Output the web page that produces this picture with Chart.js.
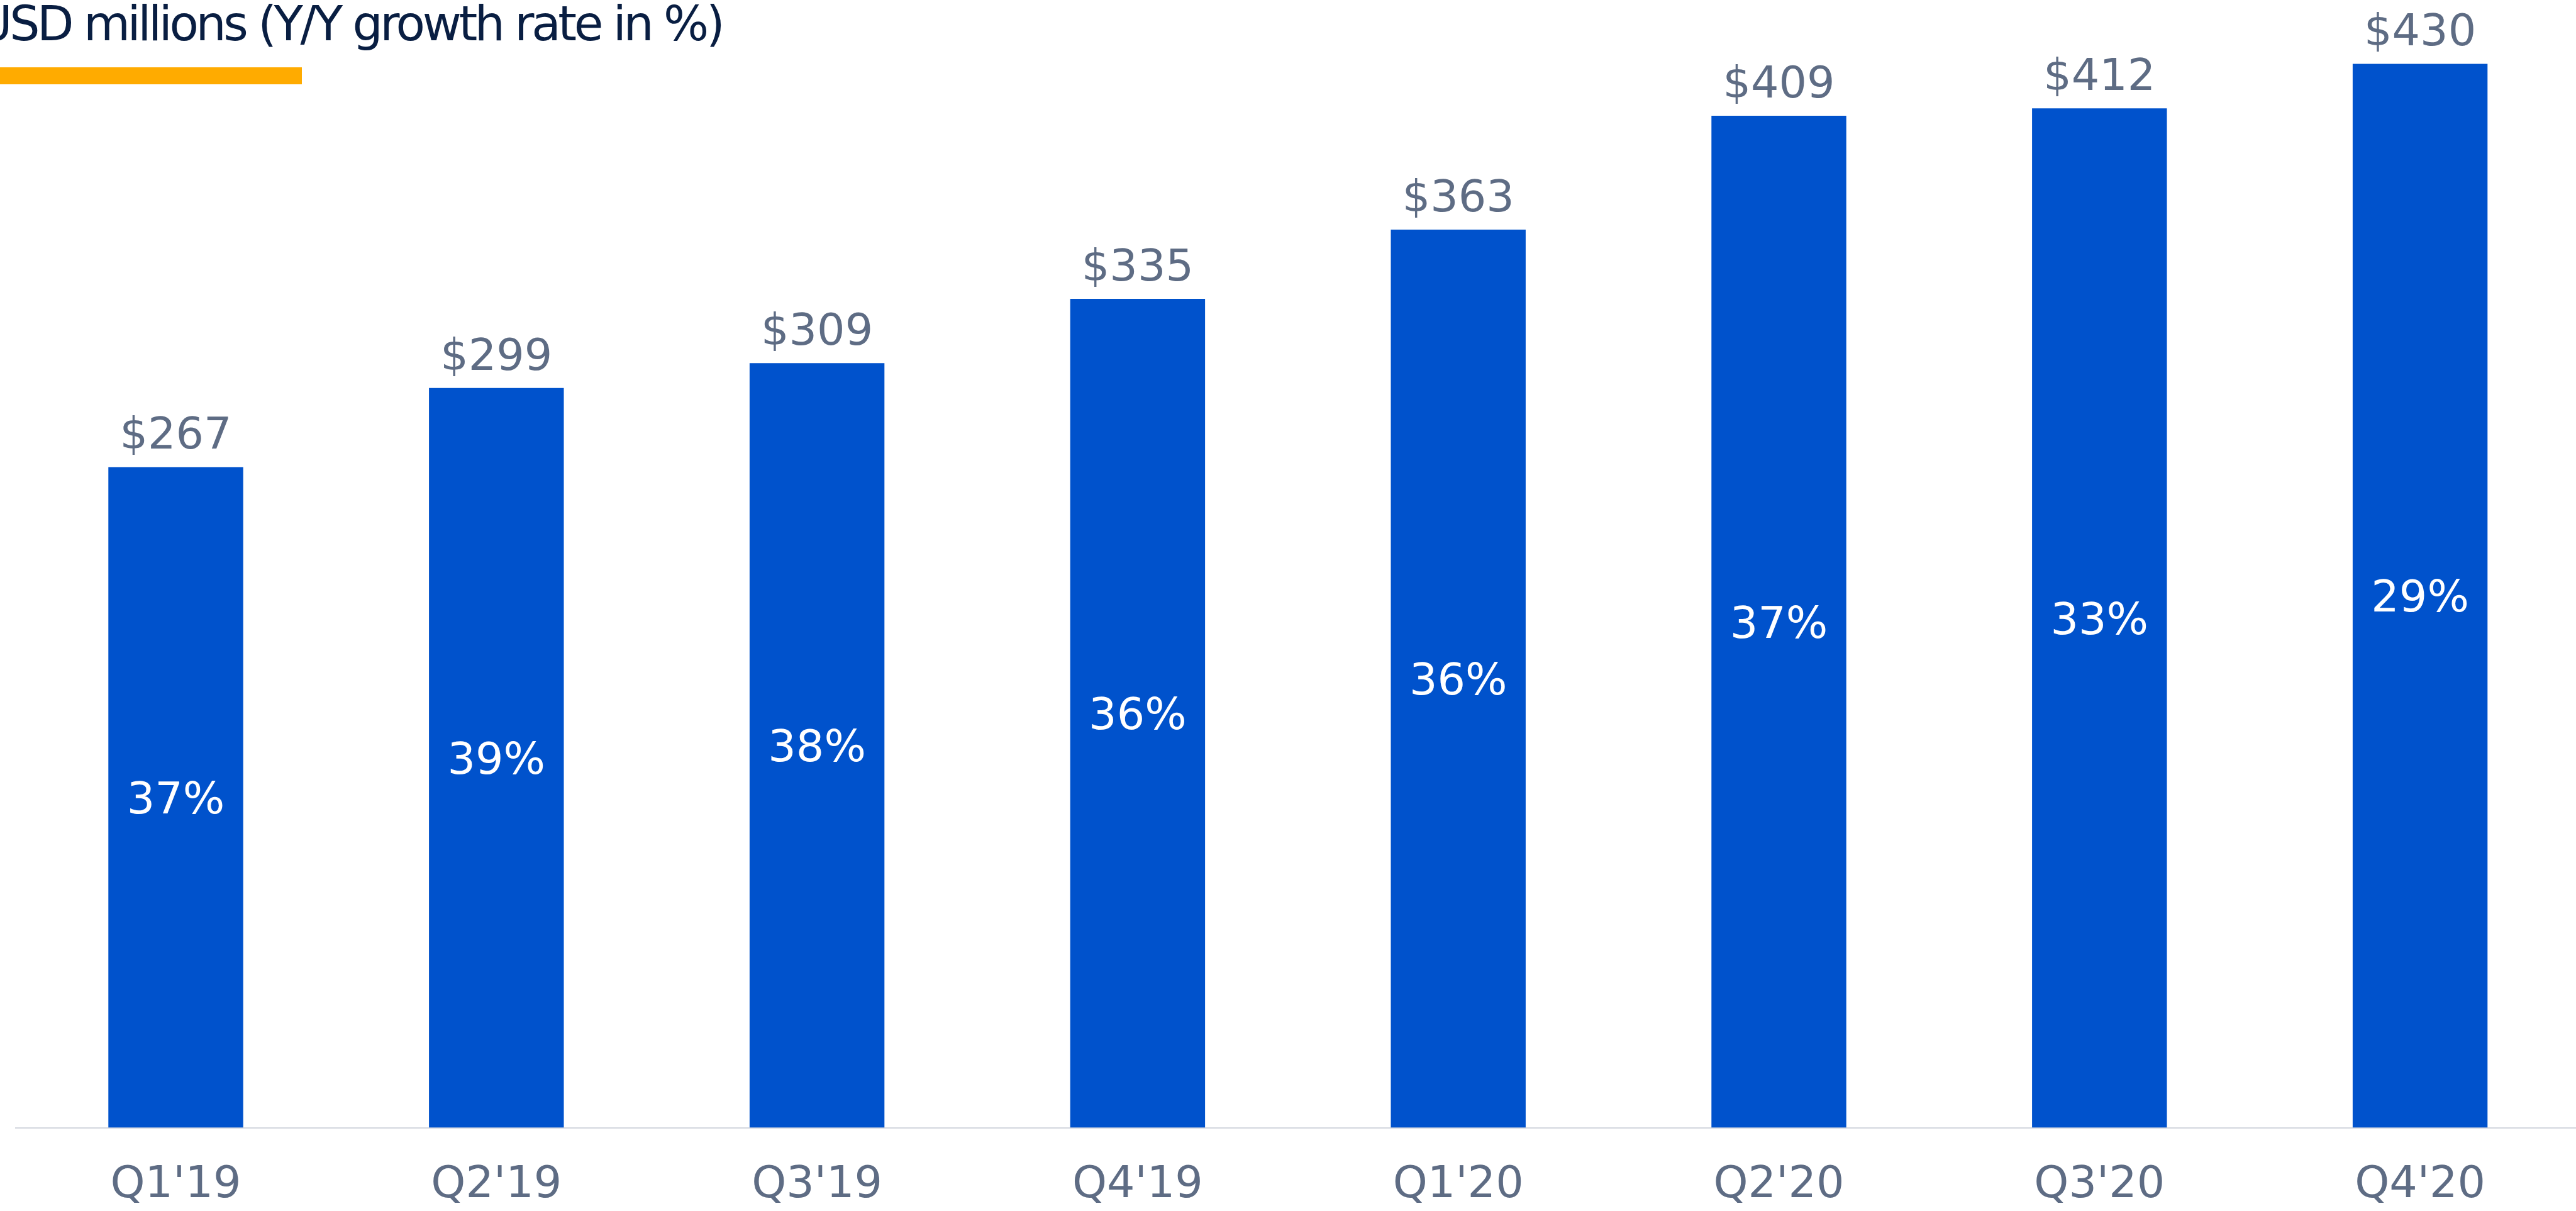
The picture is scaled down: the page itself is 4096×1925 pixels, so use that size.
<!DOCTYPE html>
<html>
<head>
<meta charset="utf-8">
<script src="https://cdn.jsdelivr.net/npm/chart.js@4.4.1/dist/chart.umd.min.js"></script>
<style>
  html, body { margin: 0; padding: 0; background: #ffffff; overflow: hidden; width: 4096px; height: 1925px; }
  #wrap { position: absolute; left: 0; top: 0; width: 4103px; height: 1925px; }
  #title { position: absolute; left: -36px; top: 0px; font-family: "DejaVu Sans", sans-serif; font-size: 76px; line-height: 76px; letter-spacing: -4.4px; color: #091E42; white-space: nowrap; }
  #underline { position: absolute; left: 0; top: 107px; width: 480px; height: 27px; background: #FFAB00; }
</style>
</head>
<body>
<div id="wrap">
  <canvas id="c" width="4103" height="1925"></canvas>
</div>
<div id="title">USD millions (Y/Y growth rate in %)</div>
<div id="underline"></div>
<script>
const categories = ["Q1'19", "Q2'19", "Q3'19", "Q4'19", "Q1'20", "Q2'20", "Q3'20", "Q4'20"];
const revenue = [267, 299, 309, 335, 363, 409, 412, 430];
const growth = [37, 39, 38, 36, 36, 37, 33, 29];

const FONT = '"DejaVu Sans", sans-serif';

const labelPlugin = {
  id: 'barLabels',
  afterDatasetsDraw(chart) {
    const ctx = chart.ctx;
    const meta = chart.getDatasetMeta(0);
    ctx.save();
    ctx.textAlign = 'center';
    ctx.textBaseline = 'alphabetic';
    ctx.font = '70px ' + FONT;
    meta.data.forEach((bar, i) => {
      ctx.fillStyle = '#5E6C84';
      ctx.fillText('$' + revenue[i], bar.x, bar.y - 29);
      const mid = (bar.y + bar.base) / 2;
      ctx.fillStyle = '#FFFFFF';
      ctx.fillText(growth[i] + '%', bar.x, mid + 25.5);
    });
    ctx.restore();
  }
};

new Chart(document.getElementById('c'), {
  type: 'bar',
  data: {
    labels: categories,
    datasets: [{
      data: revenue,
      backgroundColor: '#0052CC',
      borderWidth: 0,
      barPercentage: 0.4206,
      categoryPercentage: 1.0
    }]
  },
  options: {
    responsive: false,
    animation: false,
    devicePixelRatio: 1,
    layout: { padding: { left: 24.6, right: 0, top: 0, bottom: 0 } },
    plugins: { legend: { display: false }, tooltip: { enabled: false }, title: { display: false } },
    scales: {
      x: {
        z: 1,
        grid: { display: false, drawTicks: false },
        border: { display: true, color: '#D3D7DE', width: 2 },
        ticks: {
          color: '#5E6C84',
          font: { family: FONT, size: 70, lineHeight: 1 },
          padding: 57,
          maxRotation: 0,
          autoSkip: false
        },
        afterFit(scale) { scale.height = 132.5; }
      },
      y: {
        display: false,
        min: 0,
        max: 455.8,
        grid: { display: false }
      }
    }
  },
  plugins: [labelPlugin]
});
</script>
</body>
</html>
